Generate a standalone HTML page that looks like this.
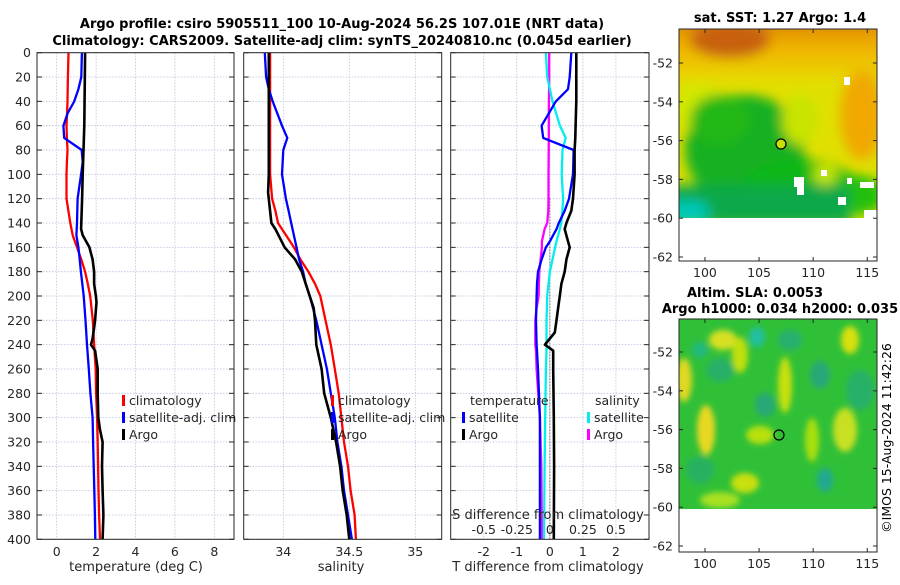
<!DOCTYPE html>
<html><head><meta charset="utf-8"><style>
body{margin:0;background:#fff;width:900px;height:580px;overflow:hidden}
svg text{font-family:"DejaVu Sans","Liberation Sans",sans-serif;fill:#262626}
</style></head><body>
<svg id="fig" width="900" height="580" viewBox="0 0 900 580" xmlns="http://www.w3.org/2000/svg">
<defs>
<filter id="bl" x="-20%" y="-20%" width="140%" height="140%"><feGaussianBlur stdDeviation="6"/></filter>
<filter id="bl2" x="-20%" y="-20%" width="140%" height="140%"><feGaussianBlur stdDeviation="3"/></filter>
<clipPath id="c1"><rect x="679" y="29" width="198" height="189"/></clipPath>
<clipPath id="c2"><rect x="679" y="319" width="198" height="190"/></clipPath>
<linearGradient id="sstTop" x1="0" y1="0" x2="0" y2="1">
<stop offset="0" stop-color="#d07010"/><stop offset="0.5" stop-color="#f0b000"/><stop offset="1" stop-color="#e8d800"/>
</linearGradient>
</defs>
<text x="342" y="28" text-anchor="middle" font-size="13" font-weight="bold" style="fill:#000">Argo profile: csiro 5905511_100 10-Aug-2024 56.2S 107.01E (NRT data)</text>
<text x="342" y="45" text-anchor="middle" font-size="13" font-weight="bold" style="fill:#000">Climatology: CARS2009. Satellite-adj clim: synTS_20240810.nc (0.045d earlier)</text>

<!-- Map 1 -->
<g>
<text x="780" y="22" text-anchor="middle" font-size="13" font-weight="bold" style="fill:#000">sat. SST: 1.27 Argo: 1.4</text>
<g clip-path="url(#c1)">
<rect x="679" y="29" width="198" height="189" fill="#e0e000"/>
<g filter="url(#bl)">
<rect x="660" y="10" width="240" height="70" fill="url(#sstTop)"/>
<ellipse cx="730" cy="40" rx="40" ry="18" fill="#c86010"/>
<ellipse cx="862" cy="115" rx="22" ry="45" fill="#f0a800"/>
<ellipse cx="700" cy="110" rx="25" ry="25" fill="#d0e800"/>
<ellipse cx="745" cy="150" rx="60" ry="55" fill="#18b020"/>
<ellipse cx="720" cy="120" rx="30" ry="25" fill="#20b818"/>
<ellipse cx="800" cy="120" rx="18" ry="25" fill="#c8e400"/>
<ellipse cx="800" cy="190" rx="60" ry="30" fill="#10b818"/>
<ellipse cx="855" cy="195" rx="30" ry="20" fill="#20c010"/>
<rect x="660" y="185" width="190" height="40" fill="#10a848"/>
<ellipse cx="688" cy="212" rx="22" ry="12" fill="#00c8b8"/>
<ellipse cx="825" cy="175" rx="12" ry="10" fill="#c8e800"/>
</g>
<rect x="794" y="177" width="10" height="10" fill="#fff"/>
<rect x="797" y="183" width="7" height="12" fill="#fff"/>
<rect x="821" y="170" width="6" height="6" fill="#fff"/>
<rect x="838" y="197" width="8" height="8" fill="#fff"/>
<rect x="860" y="182" width="14" height="6" fill="#fff"/>
<rect x="847" y="178" width="5" height="6" fill="#fff"/>
<rect x="844" y="77" width="6" height="8" fill="#fff"/>
<rect x="864" y="210" width="13" height="8" fill="#fff"/>
</g>
<rect x="679" y="29" width="198" height="232" fill="none" stroke="#262626"/>
<circle cx="781" cy="144" r="5" fill="#c8e000" stroke="#000" stroke-width="1.2"/>
</g>

<!-- Map 2 -->
<g>
<text x="755" y="297" text-anchor="middle" font-size="13" font-weight="bold" style="fill:#000">Altim. SLA: 0.0053</text>
<text x="780" y="313" text-anchor="middle" font-size="13" font-weight="bold" style="fill:#000">Argo h1000: 0.034 h2000: 0.035</text>
<g clip-path="url(#c2)">
<rect x="679" y="319" width="198" height="190" fill="#30c038"/>
<g filter="url(#bl2)">
<ellipse cx="757" cy="337" rx="8" ry="10" fill="#20c0a0"/>
<ellipse cx="684" cy="380" rx="8" ry="22" fill="#e0d820"/>
<ellipse cx="723" cy="340" rx="14" ry="10" fill="#d8e020"/>
<ellipse cx="706" cy="430" rx="9" ry="25" fill="#e8d820"/>
<ellipse cx="740" cy="355" rx="8" ry="18" fill="#c0e010"/>
<ellipse cx="785" cy="385" rx="7" ry="28" fill="#c8e010"/>
<ellipse cx="760" cy="435" rx="14" ry="9" fill="#b8e010"/>
<ellipse cx="720" cy="370" rx="14" ry="12" fill="#28b068"/>
<ellipse cx="700" cy="350" rx="8" ry="8" fill="#20b880"/>
<ellipse cx="850" cy="340" rx="9" ry="14" fill="#d8e010"/>
<ellipse cx="845" cy="430" rx="12" ry="22" fill="#c8e020"/>
<ellipse cx="825" cy="480" rx="8" ry="12" fill="#20a890"/>
<ellipse cx="745" cy="483" rx="14" ry="10" fill="#c8e010"/>
<ellipse cx="812" cy="440" rx="7" ry="22" fill="#a8e010"/>
<ellipse cx="820" cy="375" rx="10" ry="14" fill="#28a878"/>
<ellipse cx="765" cy="405" rx="10" ry="12" fill="#28a878"/>
<ellipse cx="720" cy="500" rx="20" ry="8" fill="#a8e020"/>
<ellipse cx="860" cy="390" rx="14" ry="20" fill="#28b068"/>
<ellipse cx="700" cy="470" rx="14" ry="14" fill="#28b060"/>
<ellipse cx="790" cy="340" rx="12" ry="10" fill="#28b070"/>
</g>
</g>
<rect x="679" y="319" width="198" height="233" fill="none" stroke="#262626"/>
<circle cx="779" cy="435" r="5" fill="none" stroke="#000" stroke-width="1.2"/>
</g>
<text transform="translate(891,438) rotate(-90)" text-anchor="middle" font-size="12.5" style="fill:#000">©IMOS 15-Aug-2024 11:42:26</text>
<g id="dyn"></g>
</svg>
<script>
// ---- Data (depth m) ----
const depthsT = [0,20,30,40,50,60,70,80,90,100,120,140,150,160,170,180,190,200,220,240,260,280,300,320,340,360,380,400];
const climT   = [0.6,0.57,0.56,0.55,0.53,0.5,0.52,0.55,0.52,0.5,0.5,0.69,0.81,1.03,1.25,1.44,1.58,1.7,1.83,1.9,1.98,2.0,2.05,2.08,2.1,2.12,2.15,2.2];
const satT    = [1.28,1.25,1.1,0.89,0.55,0.34,0.38,1.27,1.32,1.24,1.06,1.03,1.0,1.1,1.17,1.23,1.3,1.37,1.46,1.54,1.63,1.71,1.82,1.85,1.88,1.91,1.94,1.96];
const argoDepthT = [0,60,100,120,145,150,160,170,180,190,200,205,220,235,240,245,260,280,300,310,320,340,360,380,400];
const argoT      = [1.44,1.4,1.32,1.29,1.24,1.32,1.66,1.82,1.9,1.9,1.99,2.02,1.95,1.82,1.74,1.95,2.08,2.08,2.11,2.2,2.33,2.3,2.33,2.37,2.33];
const depthsS = [0,20,30,40,60,70,80,100,120,130,140,160,170,180,190,200,220,240,260,280,300,320,340,360,380,400];
const climS   = [33.9,33.9,33.9,33.9,33.9,33.9,33.9,33.9,33.915,33.94,33.96,34.08,34.13,34.19,34.24,34.28,34.32,34.36,34.39,34.42,34.44,34.46,34.49,34.51,34.54,34.55];
const satS    = [33.86,33.87,33.89,33.92,33.99,34.03,34.0,33.99,34.02,34.04,34.06,34.1,34.12,34.15,34.17,34.2,34.25,34.29,34.33,34.36,34.39,34.41,34.44,34.46,34.49,34.52];
const argoDepthS = [0,100,115,140,145,160,170,180,190,200,210,220,240,260,280,300,320,340,360,380,400];
const argoS      = [33.89,33.89,33.885,33.91,33.94,34.01,34.09,34.14,34.17,34.2,34.23,34.24,34.25,34.29,34.31,34.36,34.4,34.43,34.45,34.48,34.5];
const dDepth = [0,20,30,40,60,70,80,100,120,130,140,145,155,160,170,180,190,200,210,220,230,240,245,260,300,340,400];
const argoTdiff = [0.8,0.8,0.8,0.8,0.78,0.77,0.75,0.75,0.7,0.65,0.5,0.45,0.55,0.6,0.5,0.45,0.35,0.3,0.25,0.2,0.15,-0.15,0.1,0.1,0.12,0.13,0.12];
const satTdiff  = [0.65,0.6,0.55,0.18,-0.25,-0.2,0.72,0.7,0.58,0.45,0.27,0.2,0.0,-0.12,-0.25,-0.36,-0.39,-0.4,-0.41,-0.42,-0.41,-0.4,-0.39,-0.36,-0.3,-0.3,-0.3];
const satSdiff  = [-0.03,-0.02,-0.0,0.02,0.076,0.12,0.096,0.09,0.1,0.095,0.086,0.075,0.05,0.04,0.02,0.0,-0.01,-0.02,-0.022,-0.025,-0.025,-0.025,-0.025,-0.03,-0.035,-0.04,-0.045];
const argoSdiff = [-0.005,-0.005,-0.006,-0.007,-0.008,-0.008,-0.009,-0.01,-0.01,-0.012,-0.02,-0.04,-0.06,-0.06,-0.07,-0.08,-0.083,-0.085,-0.1,-0.11,-0.11,-0.11,-0.105,-0.1,-0.075,-0.065,-0.06];
const depthTicks = [0,20,40,60,80,100,120,140,160,180,200,220,240,260,280,300,320,340,360,380,400];
const tTicks = [0,2,4,6,8];
const sTicks = [34,34.5,35];
const dTicks = [-2,-1,0,1,2];
const sdTicks = [-0.5,-0.25,0,0.25,0.5];
const lonTicks = [100,105,110,115];
const latTicks = [-52,-54,-56,-58,-60,-62];

const NS='http://www.w3.org/2000/svg';
const root=document.getElementById('dyn');
function el(tag,attrs,parent,txt){const e=document.createElementNS(NS,tag);for(const k in attrs)e.setAttribute(k,attrs[k]);if(txt!==undefined)e.textContent=txt;(parent||root).appendChild(e);return e;}
const Y0=52.7,Y1=539.3;
const yD=d=>Y0+(d/400)*(Y1-Y0);
function lin(d0,d1,p0,p1){return v=>p0+(v-d0)/(d1-d0)*(p1-p0);}
const P1={l:37,r:234}, P2={l:243.7,r:441.7}, P3={l:450.7,r:649};
const xT=lin(-1,9,P1.l,P1.r), xS=lin(33.7,35.2,P2.l,P2.r), xD=lin(-3,3,P3.l,P3.r), xSD=lin(-0.75,0.75,P3.l,P3.r);

function panel(P,xs,ticks,name){
  const g=el('g',{});
  
  
  ticks.forEach(t=>{const l=el('line',{x1:xs(t),x2:xs(t),y1:Y0,y2:Y1,stroke:'#b8bfdc','stroke-width':0.8,'stroke-dasharray':'1.5,1.5'},g);});
  depthTicks.forEach(d=>{const l=el('line',{x1:P.l,x2:P.r,y1:yD(d),y2:yD(d),stroke:'#b8bfdc','stroke-width':0.8,'stroke-dasharray':'1.5,1.5'},g);
    el('line',{x1:P.l,x2:P.l+5,y1:yD(d),y2:yD(d),stroke:'#262626'},g);el('line',{x1:P.r-5,x2:P.r,y1:yD(d),y2:yD(d),stroke:'#262626'},g);});
  return g;
}
function frame(P,g){const r=el('rect',{x:P.l,y:Y0,width:P.r-P.l,height:Y1-Y0,fill:'none',stroke:'#262626','stroke-width':1},g);}
function line(g,xs,vals,deps,color,name,w){
  const pts=vals.map((v,i)=>xs(v).toFixed(1)+','+yD(deps[i]).toFixed(1)).join(' ');
  const p=el('polyline',{points:pts,fill:'none',stroke:color,'stroke-width':w||2.3,'stroke-linejoin':'round'},g);
  
  
}
function xlabels(g,xs,ticks,y,fmt){ticks.forEach(t=>{const tx=el('text',{x:xs(t),y:y,'text-anchor':'middle','font-size':12.5},g,fmt?fmt(t):String(t));});}
function legend(g,x,y,items){items.forEach((it,i)=>{el('rect',{x:x-2,y:y+i*17-10,width:3,height:11,fill:it[0]},g);const t=el('text',{x:x+5,y:y+i*17,'font-size':12.5},g,it[1]);});}

// Panel 1
const g1=panel(P1,xT,tTicks,'temperature-panel');
line(g1,xT,climT,depthsT,'#f00','climatology-temperature-line');
line(g1,xT,satT,depthsT,'#00f','satellite-temperature-line');
line(g1,xT,argoT,argoDepthT,'#000','argo-temperature-line',2.6);
frame(P1,g1);
depthTicks.forEach(d=>{const t=el('text',{x:31,y:yD(d)+4.5,'text-anchor':'end','font-size':12.5},g1,String(d));});
xlabels(g1,xT,tTicks,556);
let t1=el('text',{x:136,y:571,'text-anchor':'middle','font-size':13},g1,'temperature (deg C)');
legend(g1,124,405,[['#f00','climatology'],['#00f','satellite-adj. clim'],['#000','Argo']]);

// Panel 2
const g2=panel(P2,xS,sTicks,'salinity-panel');
line(g2,xS,climS,depthsS,'#f00','climatology-salinity-line');
line(g2,xS,satS,depthsS,'#00f','satellite-salinity-line');
line(g2,xS,argoS,argoDepthS,'#000','argo-salinity-line',2.6);
frame(P2,g2);
xlabels(g2,xS,sTicks,556);
let t2=el('text',{x:341,y:571,'text-anchor':'middle','font-size':13},g2,'salinity');
legend(g2,333,405,[['#f00','climatology'],['#00f','satellite-adj. clim'],['#000','Argo']]);

// Panel 3
const g3=panel(P3,xD,dTicks,'difference-panel');
el('line',{x1:xD(0),x2:xD(0),y1:yD(120),y2:Y1,stroke:'#333','stroke-width':1,'stroke-dasharray':'1,2'},g3);
line(g3,xSD,argoSdiff,dDepth,'#f0f','argo-salinity-diff-line');
line(g3,xSD,satSdiff,dDepth,'#0ee','satellite-salinity-diff-line');
line(g3,xD,satTdiff,dDepth,'#00f','satellite-temperature-diff-line');
line(g3,xD,argoTdiff,dDepth,'#000','argo-temperature-diff-line',2.6);
frame(P3,g3);
xlabels(g3,xD,dTicks,556);
let t3=el('text',{x:548,y:571,'text-anchor':'middle','font-size':13},g3,'T difference from climatology');
let t4=el('text',{x:548,y:519,'text-anchor':'middle','font-size':13},g3,'S difference from climatology');
xlabels(g3,xSD,sdTicks,534);
let t5=el('text',{x:470,y:405,'font-size':12.5},g3,'temperature');
let t6=el('text',{x:595,y:405,'font-size':12.5},g3,'salinity');
legend(g3,464,422,[['#00f','satellite'],['#000','Argo']]);
legend(g3,589,422,[['#0ee','satellite'],['#f0f','Argo']]);

// Map axes
const xLon=lin(97.6,115.9,679,877);
function mapAxes(top,latRef,yRef,bottom,name){
  const g=el('g',{});
  
  
  const yl=lat=>yRef+(latRef-lat)*19.4;
  latTicks.forEach(l=>{const y=yl(l);el('line',{x1:679,x2:683,y1:y,y2:y,stroke:'#262626'},g);el('line',{x1:873,x2:877,y1:y,y2:y,stroke:'#262626'},g);
    const t=el('text',{x:673,y:y+4.5,'text-anchor':'end','font-size':12.5},g,String(l));});
  lonTicks.forEach(l=>{const x=xLon(l);el('line',{x1:x,x2:x,y1:bottom-4,y2:bottom,stroke:'#262626'},g);el('line',{x1:x,x2:x,y1:top,y2:top+4,stroke:'#262626'},g);
    const t=el('text',{x:x,y:bottom+16,'text-anchor':'middle','font-size':12.5},g,String(l));});
}
mapAxes(29,-52,63,261,'sst-map-axes');
mapAxes(319,-52,352,552,'sla-map-axes');
</script>
</body></html>
